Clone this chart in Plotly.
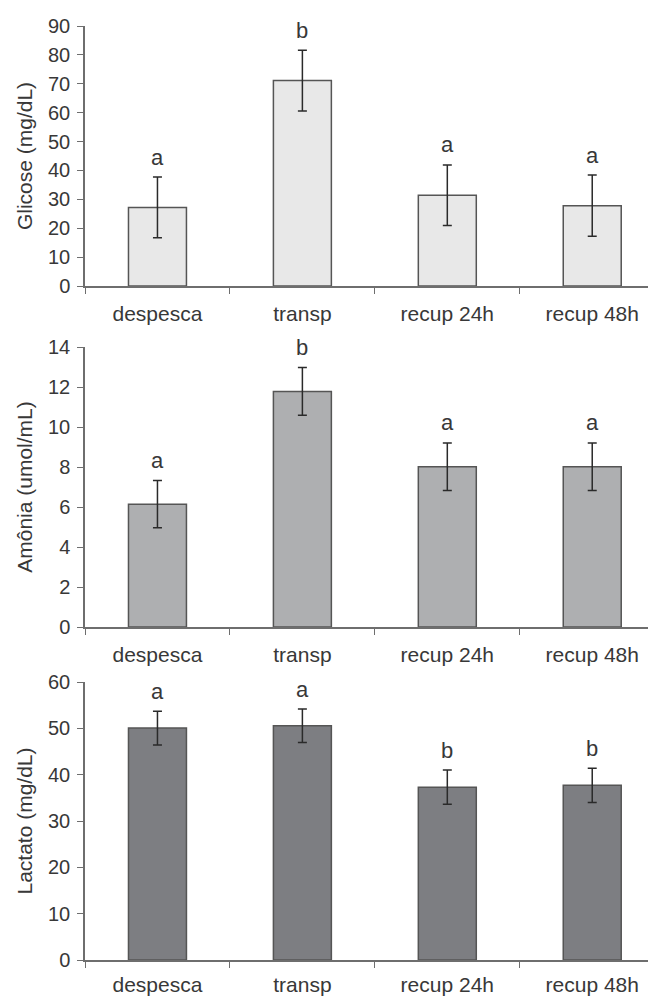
import plotly.graph_objects as go

categories = ["despesca", "transp", "recup 24h", "recup 48h"]

glicose = [27.2, 71.1, 31.4, 27.8]
glicose_err = [10.5, 10.5, 10.5, 10.6]
glicose_letters = ["a", "b", "a", "a"]

amonia = [6.14, 11.78, 8.01, 8.01]
amonia_err = [1.18, 1.19, 1.19, 1.19]
amonia_letters = ["a", "b", "a", "a"]

lactato = [50.06, 50.56, 37.3, 37.7]
lactato_err = [3.65, 3.6, 3.7, 3.7]
lactato_letters = ["a", "a", "b", "b"]

y_titles = ["Glicose (mg/dL)", "Amônia (umol/mL)", "Lactato (mg/dL)"]
y_ranges = [[0, 90], [0, 14], [0, 60]]
y_dticks = [10, 2, 10]
fills = ["#e8e8e8", "#aeafb1", "#7d7e82"]
label_standoffs = [8, 8, 5]

OFF = 8  # default page body margin
W = 656 - OFF
H = 997 - OFF
panels_px = [(26, 286), (347, 627), (682, 960)]
X0 = 85

FONT = "Liberation Sans"
TXT = "#383838"
AX = "#6e6e6e"

fig = go.Figure()
series = [(glicose, glicose_err, glicose_letters),
          (amonia, amonia_err, amonia_letters),
          (lactato, lactato_err, lactato_letters)]

for i, (vals, errs, letters) in enumerate(series):
    n = "" if i == 0 else str(i + 1)
    fig.add_trace(go.Bar(
        x=categories, y=vals, width=0.4,
        marker=dict(color=fills[i], line=dict(color="#555555", width=1.5)),
        error_y=dict(type="data", array=errs, visible=True, color="#2a2a2a",
                     thickness=1.5, width=4.5),
        xaxis="x" + n, yaxis="y" + n, showlegend=False,
    ))
    for c, v, e, l in zip(categories, vals, errs, letters):
        fig.add_annotation(x=c, y=v + e, text=l, showarrow=False,
                           xref="x" + n, yref="y" + n,
                           yanchor="middle", yshift=20,
                           font=dict(family=FONT, size=22, color=TXT))
    top, bot = panels_px[i]
    dom = [1 - (bot - OFF) / H, 1 - (top - OFF) / H]
    fig.layout["xaxis" + n] = dict(
        domain=[(X0 - OFF) / W, 1], anchor="y" + n, type="category",
        range=[-0.5, 3.44], tickson="boundaries", ticks="outside",
        ticklen=6, tickcolor=AX, tickwidth=1.2, showline=True,
        linecolor=AX, linewidth=1.5, showgrid=False, zeroline=False,
        tickfont=dict(family=FONT, size=21, color=TXT), automargin=False,
        ticklabelstandoff=label_standoffs[i],
    )
    fig.layout["yaxis" + n] = dict(
        domain=dom, anchor="x" + n, range=y_ranges[i], dtick=y_dticks[i],
        ticks="outside", ticklen=6, tickcolor=AX, tickwidth=1.2,
        showline=True, linecolor=AX, linewidth=1.5, showgrid=False,
        zeroline=False, tickfont=dict(family=FONT, size=20, color=TXT),
        ticklabelstandoff=3,
        title=dict(text=y_titles[i], standoff=10,
                   font=dict(family=FONT, size=21, color=TXT)),
        automargin=False,
    )

fig.update_layout(
    width=W, height=H, margin=dict(l=0, r=0, t=0, b=0),
    plot_bgcolor="white", paper_bgcolor="white", bargap=0.6,
)
fig.write_html("out.html")
